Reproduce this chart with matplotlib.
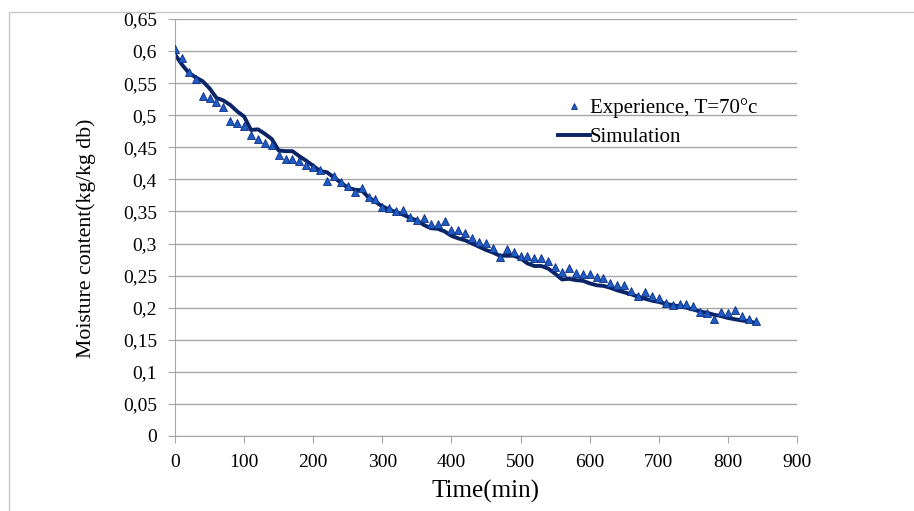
import matplotlib
matplotlib.use("Agg")
import matplotlib.pyplot as plt
from matplotlib.ticker import FuncFormatter, MultipleLocator
from matplotlib.patches import Rectangle

t_exp = list(range(0, 850, 10))
m_exp = [0.604, 0.589, 0.567, 0.557, 0.530, 0.527, 0.521, 0.513, 0.491, 0.488,
         0.483, 0.469, 0.463, 0.457, 0.454, 0.438, 0.431, 0.431, 0.428, 0.422,
         0.420, 0.414, 0.398, 0.405, 0.396, 0.389, 0.381, 0.387, 0.372, 0.370,
         0.357, 0.356, 0.350, 0.352, 0.342, 0.337, 0.340, 0.331, 0.330, 0.335,
         0.321, 0.321, 0.317, 0.308, 0.302, 0.301, 0.293, 0.279, 0.292, 0.287,
         0.281, 0.281, 0.277, 0.277, 0.273, 0.263, 0.255, 0.262, 0.254, 0.253,
         0.253, 0.248, 0.247, 0.239, 0.236, 0.236, 0.226, 0.218, 0.224, 0.218,
         0.215, 0.208, 0.204, 0.206, 0.206, 0.203, 0.193, 0.191, 0.182, 0.193,
         0.192, 0.197, 0.187, 0.182, 0.180]

t_sim = list(range(0, 850, 10))
m_sim = [0.595, 0.579, 0.566, 0.559, 0.553, 0.542, 0.527, 0.523, 0.516, 0.506,
         0.498, 0.477, 0.478, 0.471, 0.463, 0.445, 0.444, 0.444, 0.436, 0.429,
         0.421, 0.413, 0.411, 0.403, 0.395, 0.387, 0.384, 0.383, 0.372, 0.365,
         0.358, 0.353, 0.349, 0.345, 0.340, 0.336, 0.329, 0.324, 0.323, 0.319,
         0.312, 0.308, 0.305, 0.300, 0.295, 0.290, 0.286, 0.281, 0.281, 0.281,
         0.277, 0.269, 0.265, 0.265, 0.261, 0.253, 0.244, 0.245, 0.243, 0.242,
         0.238, 0.235, 0.234, 0.231, 0.227, 0.224, 0.221, 0.217, 0.214, 0.211,
         0.209, 0.206, 0.204, 0.202, 0.200, 0.197, 0.194, 0.192, 0.189, 0.187,
         0.184, 0.182, 0.180, 0.179, 0.176]

plt.rcParams['font.family'] = ['Liberation Serif', 'DejaVu Serif']

fig = plt.figure(figsize=(9.14, 5.11), dpi=100)
fig.patches.append(Rectangle((9/914, -0.1), 1.1, 1 - 12/511 + 0.1, transform=fig.transFigure,
                             fill=False, edgecolor='#c8c8c8', linewidth=1.0))
ax = fig.add_axes([175/914, 1 - 436/511, (797 - 175)/914, (436 - 19)/511])

ax.plot(t_exp, m_exp, linestyle='none', marker='^', markersize=5.5,
        markerfacecolor='#1f5cc6', markeredgecolor='#0d2e80', markeredgewidth=0.6,
        label='Experience, T=70°c', zorder=3)
ax.plot(t_sim, m_sim, color='#0b2466', linewidth=2.8, label='Simulation', zorder=2)

ax.set_xlim(0, 900)
ax.set_ylim(0, 0.65)
ax.xaxis.set_major_locator(MultipleLocator(100))
ax.yaxis.set_major_locator(MultipleLocator(0.05))
ax.yaxis.set_major_formatter(FuncFormatter(lambda v, p: ('%.2f' % v).rstrip('0').rstrip('.').replace('.', ',')))
ax.grid(axis='y', color='#a6a6a6', linewidth=1.0)
ax.set_axisbelow(True)
for s in ['top', 'right']:
    ax.spines[s].set_visible(False)
for s in ['left', 'bottom']:
    ax.spines[s].set_color('#a6a6a6')
ax.tick_params(axis='both', colors='#a6a6a6', labelcolor='black', labelsize=14, length=5,
               direction='out', pad=8)
ax.set_xlabel('Time(min)', fontsize=18)
ax.set_ylabel('Moisture content(kg/kg db)', fontsize=15.7)
ax.xaxis.set_label_coords(0.5, -0.105)
ax.yaxis.set_label_coords(-0.127, 0.474)

leg = ax.legend(loc='upper left', bbox_to_anchor=(0.603, 0.83), frameon=False, fontsize=15,
                handlelength=1.5, handletextpad=0.0, labelspacing=0.45, borderaxespad=0,
                markerscale=0.8)

fig.savefig('out.png', dpi=100)
